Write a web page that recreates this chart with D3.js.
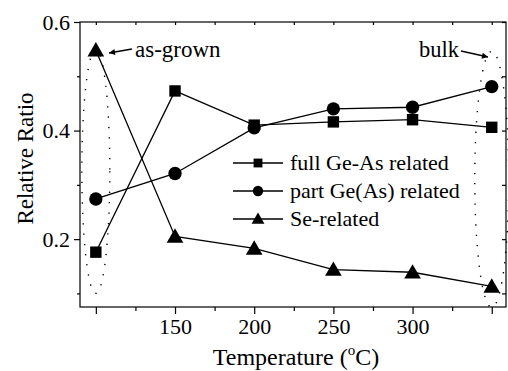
<!DOCTYPE html>
<html>
<head>
<meta charset="utf-8">
<script src="https://cdn.jsdelivr.net/npm/d3@7"></script>
<style>
  body { margin: 0; background: #fff; }
  #chart text, #chart tspan { font-family: "Liberation Serif", "Times New Roman", Tinos !important; }
</style>
</head>
<body>
<svg id="chart" width="508" height="371" font-family="Liberation Serif"></svg>
<script>
// x positions: first = as-grown, last = bulk
const temps = [100, 150, 200, 250, 300, 350];
const tickLabels = ['', '150', '200', '250', '300', ''];
const fullGeAs = [0.176, 0.473, 0.410, 0.416, 0.420, 0.406];
const partGeAs = [0.274, 0.321, 0.405, 0.440, 0.443, 0.481];
const seRelated = [0.548, 0.205, 0.183, 0.144, 0.139, 0.113];
const seriesNames = ['full Ge-As related', 'part Ge(As) related', 'Se-related'];
const yMajor = [0.2, 0.4, 0.6];
const yMinor = [0.1, 0.3, 0.5];

const FONT = '"Liberation Serif", "Times New Roman", Tinos';
const svg = d3.select('#chart');
const pLeft = 80, pRight = 506, pTop = 22, pBottom = 307;

const x = d3.scaleLinear().domain([90, 359]).range([pLeft, pRight]);
const y = d3.scaleLinear().domain([0.075, 0.6]).range([pBottom, pTop]);

const xMinor = d3.range(125, 350, 50);

// frame
svg.append('rect')
  .attr('x', pLeft).attr('y', pTop)
  .attr('width', pRight - pLeft).attr('height', pBottom - pTop)
  .attr('fill', 'none').attr('stroke', '#000').attr('stroke-width', 1.2);

// bottom axis
svg.append('g').attr('transform', `translate(0,${pBottom})`)
  .call(d3.axisBottom(x).tickValues(temps).tickSize(7).tickPadding(4)
    .tickFormat((d, i) => tickLabels[i]));
svg.append('g').attr('transform', `translate(0,${pBottom})`)
  .call(d3.axisBottom(x).tickValues(xMinor).tickSize(4).tickFormat(''));

// top ticks (inward)
svg.append('g').attr('transform', `translate(0,${pTop})`)
  .call(d3.axisBottom(x).tickValues(temps.concat(xMinor)).tickSize(3).tickFormat(''));

// left axis
svg.append('g').attr('transform', `translate(${pLeft},0)`)
  .call(d3.axisLeft(y).tickValues(yMajor).tickSize(6).tickPadding(4).tickFormat(d3.format('.1f')));
svg.append('g').attr('transform', `translate(${pLeft},0)`)
  .call(d3.axisLeft(y).tickValues(yMinor).tickSize(3).tickFormat(''));

// right ticks (inward)
svg.append('g').attr('transform', `translate(${pRight},0)`)
  .call(d3.axisLeft(y).tickValues(yMajor.concat(yMinor)).tickSize(4).tickFormat(''));

svg.selectAll('.domain').remove();
svg.selectAll('g').attr('font-family', 'Liberation Serif');
svg.selectAll('.tick line').attr('stroke', '#000').attr('stroke-width', 1.2);
svg.selectAll('.tick text').attr('font-size', 22).attr('fill', '#000');

// dotted ellipses
const dotted = (cx, cy, rx, ry) => svg.append('ellipse')
  .attr('cx', cx).attr('cy', cy).attr('rx', rx).attr('ry', ry)
  .attr('fill', 'none').attr('stroke', '#000').attr('stroke-width', 1.4)
  .attr('stroke-dasharray', '1.3 9');
dotted(x(100), y(0.325), 14, 122);
dotted(x(350), y(0.31), 17, 128);

// series
const symbols = [d3.symbolSquare, d3.symbolCircle, d3.symbolTriangle];
const sizes = [130, 140, 120];
const allSeries = [fullGeAs, partGeAs, seRelated];
const line = d3.line().x((d, i) => x(temps[i])).y(d => y(d));

allSeries.forEach((vals, s) => {
  svg.append('path').datum(vals)
    .attr('d', line).attr('fill', 'none')
    .attr('stroke', '#000').attr('stroke-width', 1.3);
  svg.append('g').selectAll('path').data(vals).join('path')
    .attr('transform', (d, i) => `translate(${x(temps[i])},${y(d) + (s === 2 ? 1.5 : 0)})`)
    .attr('d', d3.symbol().type(symbols[s]).size(sizes[s]))
    .attr('fill', '#000');
});

// legend
const legend = svg.append('g');
seriesNames.forEach((name, s) => {
  const ly = 163 + s * 28;
  legend.append('line').attr('x1', 233).attr('x2', 283).attr('y1', ly).attr('y2', ly)
    .attr('stroke', '#000').attr('stroke-width', 1.3);
  legend.append('path').attr('transform', `translate(258,${ly + (s === 2 ? 1 : 0)})`)
    .attr('d', d3.symbol().type(symbols[s]).size(sizes[s] * 0.6)).attr('fill', '#000');
  legend.append('text').attr('x', 290).attr('y', ly + 7)
    .attr('font-size', 22).text(name);
});

// annotations
const defs = svg.append('defs');
defs.append('marker').attr('id', 'arr').attr('viewBox', '0 0 10 10')
  .attr('refX', 10).attr('refY', 5).attr('markerWidth', 9).attr('markerHeight', 6)
  .attr('markerUnits', 'userSpaceOnUse').attr('orient', 'auto')
  .append('path').attr('d', 'M0,0 L10,5 L0,10 z').attr('fill', '#000');

svg.append('line').attr('x1', 132).attr('y1', 49).attr('x2', 109).attr('y2', 53)
  .attr('stroke', '#000').attr('stroke-width', 1.3).attr('marker-end', 'url(#arr)');
svg.append('text').attr('x', 135).attr('y', 57).attr('font-size', 23).text('as-grown');

svg.append('line').attr('x1', 461).attr('y1', 51).attr('x2', 488).attr('y2', 57)
  .attr('stroke', '#000').attr('stroke-width', 1.3).attr('marker-end', 'url(#arr)');
svg.append('text').attr('x', 419).attr('y', 57).attr('font-size', 22.5).text('bulk');

// axis titles
const xt = svg.append('text').attr('x', 296).attr('y', 365)
  .attr('text-anchor', 'middle').attr('font-size', 24);
xt.append('tspan').text('Temperature (');
xt.append('tspan').attr('font-size', 15).attr('dy', -10).text('o');
xt.append('tspan').attr('dy', 10).text('C)');

svg.append('text').attr('transform', 'translate(33,158.5) rotate(-90)')
  .attr('text-anchor', 'middle').attr('font-size', 23).text('Relative Ratio');

svg.selectAll('text, tspan')
  .attr('font-family', 'Liberation Serif')
  .style('font-family', FONT, 'important')
  .attr('fill', '#000');
</script>
</body>
</html>
